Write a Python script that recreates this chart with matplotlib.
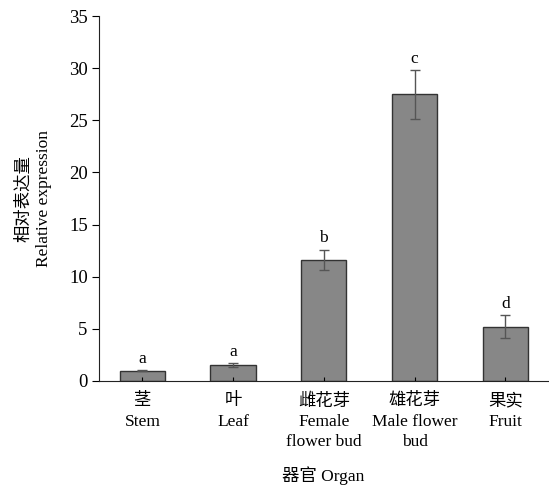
import matplotlib
matplotlib.use('Agg')
import matplotlib.pyplot as plt

organs = ['茎\nStem', '叶\nLeaf', '雌花芽\nFemale\nflower bud', '雄花芽\nMale flower\nbud', '果实\nFruit']
expression = [1.0, 1.55, 11.6, 27.5, 5.2]
errors = [0.05, 0.2, 1.0, 2.35, 1.1]
letters = ['a', 'a', 'b', 'c', 'd']

plt.rcParams['font.family'] = ['Liberation Serif', 'Noto Sans CJK SC']

fig = plt.figure(figsize=(5.49, 4.87), dpi=100)
ax = fig.add_axes([0.18, 0.2177, 0.818, 0.7494])

x = list(range(len(organs)))
ax.bar(x, expression, width=0.5, color='#878787', edgecolor='#333333', linewidth=1.0,
       yerr=errors, error_kw=dict(ecolor='#555555', elinewidth=1.0, capsize=3.5, capthick=1.0))

for xi, v, e, s in zip(x, expression, errors, letters):
    ax.text(xi, v + e + 0.3, s, ha='center', va='bottom', fontsize=12.5)

ax.set_xlim(-0.48, 4.47)
ax.set_ylim(0, 35)
ax.set_yticks(range(0, 36, 5))
ax.set_xticks(x)
ax.set_xticklabels(organs, fontsize=12.5, linespacing=1.35)

ax.spines['top'].set_visible(False)
ax.spines['right'].set_visible(False)
ax.spines['left'].set_color('#222222')
ax.spines['bottom'].set_color('#222222')
ax.tick_params(axis='y', direction='out', length=5, labelsize=13.5, pad=3)
ax.tick_params(axis='x', direction='in', length=3, pad=9)

ax.set_ylabel('相对表达量\nRelative expression', fontsize=12.5, linespacing=1.3, labelpad=12)
ax.set_xlabel('器官 Organ', fontsize=12.5)
ax.xaxis.set_label_coords(0.5, -0.258)
ax.xaxis.label.set_va('center')

fig.savefig('out.png', dpi=100)
